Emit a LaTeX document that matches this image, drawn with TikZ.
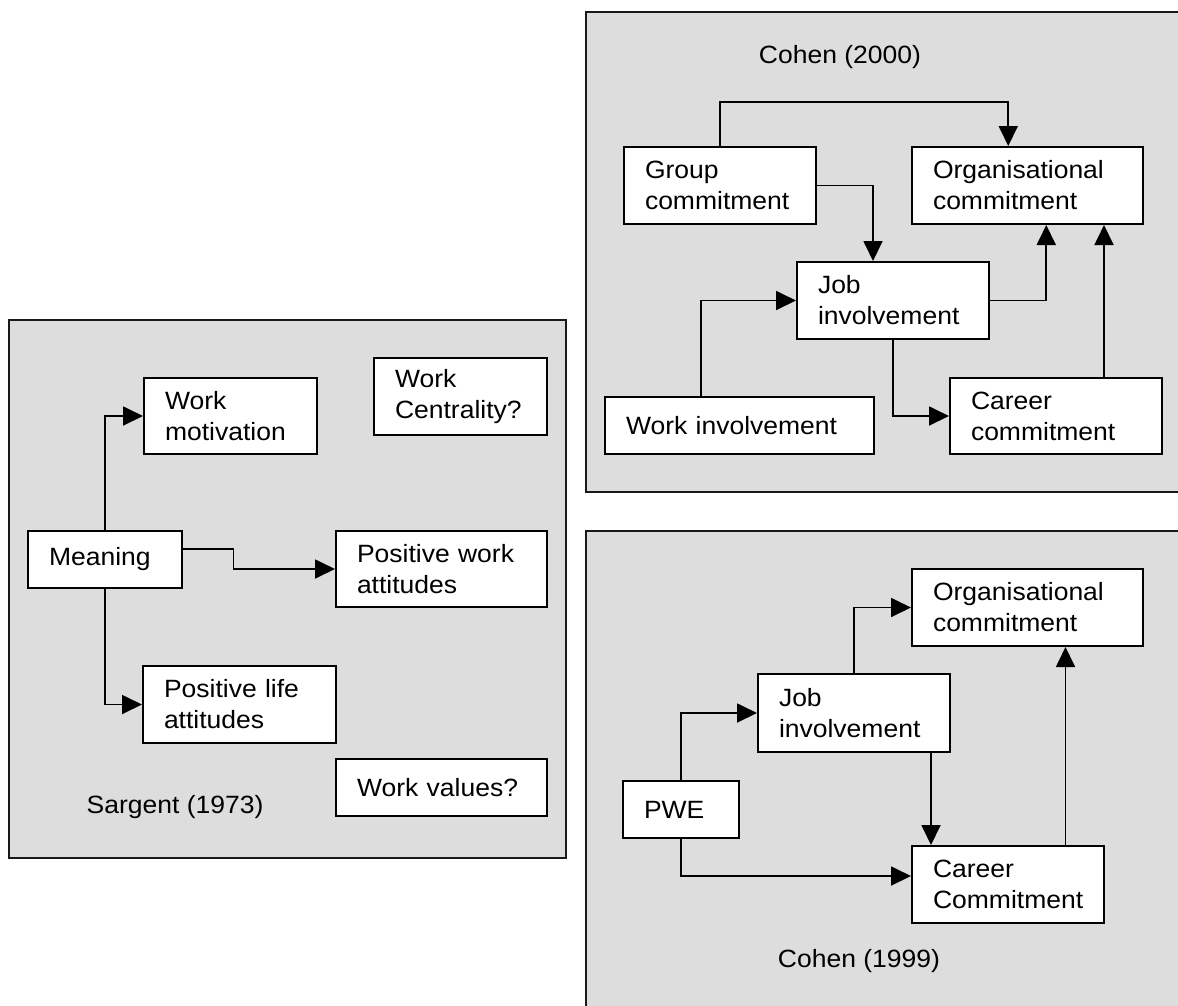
\documentclass[tikz,border=0pt]{standalone}
\usepackage{fontspec}
\setmainfont{Liberation Sans}[FakeStretch=1.06]
\usetikzlibrary{arrows.meta}
\definecolor{panelgray}{RGB}{221,221,221}
\begin{document}
\begin{tikzpicture}[x=1pt,y=-1pt,
  panel/.style={draw=black!90, line width=1.8pt, fill=panelgray},
  bx/.style={draw, line width=2pt, fill=white, inner xsep=21pt, inner ysep=0pt,
    align=left, font=\fontsize{25pt}{31pt}\selectfont},
  lbl/.style={inner sep=0pt, anchor=base, font=\fontsize{25pt}{31pt}\selectfont},
  arr/.style={line width=1.8pt, -{Triangle[length=20pt,width=19pt]}}]
\useasboundingbox (0,0) rectangle (1178,1005);
\clip (0,0) rectangle (1178,1005);
% panels
\draw[panel] (9,320) rectangle (566,858);
\draw[panel] (586,12) rectangle (1200,492);
\draw[panel] (586,531) rectangle (1200,1030);

% ---- Sargent (1973)
\node[bx, minimum width=173pt, text width=131pt, minimum height=76pt] (wm) at (230.5,416) {Work\\motivation};
\node[bx, minimum width=173pt, text width=131pt, minimum height=77pt] (wc) at (460.5,396.5) {Work\\Centrality?};
\node[bx, minimum width=154pt, text width=112pt, minimum height=57pt] (mean) at (105,559.5) {Meaning};
\node[bx, minimum width=211pt, text width=169pt, minimum height=76pt] (pwa) at (441.5,569) {Positive work\\attitudes};
\node[bx, minimum width=193pt, text width=151pt, minimum height=77pt] (pla) at (239.5,704.5) {Positive life\\attitudes};
\node[bx, minimum width=211pt, text width=169pt, minimum height=57pt] (wv) at (441.5,787.5) {Work values?};
\node[lbl] (sarg) at (175,813) {Sargent (1973)};

\draw[arr] (mean.north) |- (wm.west);
\draw[arr] ([yshift=10.5pt]mean.east) -- ++(50.5,0) |- (pwa.west);
\draw[arr] (mean.south) |- (pla.west);

% ---- Cohen (2000)
\node[lbl] (c2000) at (840,63) {Cohen (2000)};
\node[bx, minimum width=192pt, text width=150pt, minimum height=77pt] (grp) at (720,185.5) {Group\\commitment};
\node[bx, minimum width=230.5pt, text width=188.5pt, minimum height=77pt] (org1) at (1027.25,185.5) {Organisational\\commitment};
\node[bx, minimum width=192pt, text width=150pt, minimum height=77pt] (job1) at (893,300.5) {Job\\involvement};
\node[bx, minimum width=269pt, text width=227pt, minimum height=57pt] (wi) at (739.5,425.5) {Work involvement};
\node[bx, minimum width=212pt, text width=170pt, minimum height=76pt] (car1) at (1056,416) {Career\\commitment};

\draw[arr] (grp.north) -- ++(0,-44) -| ([xshift=-19pt]org1.north);
\draw[arr] (grp.east) -| ([xshift=-20pt]job1.north);
\draw[arr] ([xshift=-38.5pt]wi.north) |- (job1.west);
\draw[arr] (job1.east) -| ([xshift=19pt]org1.south);
\draw[arr] (job1.south) |- (car1.west);
\draw[arr] ([xshift=48pt]car1.north) -- ([xshift=48pt]car1.north |- org1.south);

% ---- Cohen (1999)
\node[bx, minimum width=230.5pt, text width=188.5pt, minimum height=77pt] (org2) at (1027.25,607.5) {Organisational\\commitment};
\node[bx, minimum width=192pt, text width=150pt, minimum height=78pt] (job2) at (854,713) {Job\\involvement};
\node[bx, minimum width=116pt, text width=74pt, minimum height=57pt] (pwe) at (681,809.5) {PWE};
\node[bx, minimum width=192pt, text width=150pt, minimum height=77pt] (car2) at (1008,884.5) {Career\\Commitment};
\node[lbl] (c1999) at (859,967) {Cohen (1999)};

\draw[arr] (pwe.north) |- (job2.west);
\draw[arr] (job2.north) |- (org2.west);
\draw[arr] ([xshift=77pt]job2.south) -- ([xshift=77pt]job2.south |- car2.north);
\draw[arr] (pwe.south) |- ([yshift=8.5pt]car2.west);
\draw[arr] ([xshift=57.5pt]car2.north) -- ([xshift=57.5pt]car2.north |- org2.south);
\end{tikzpicture}
\end{document}
